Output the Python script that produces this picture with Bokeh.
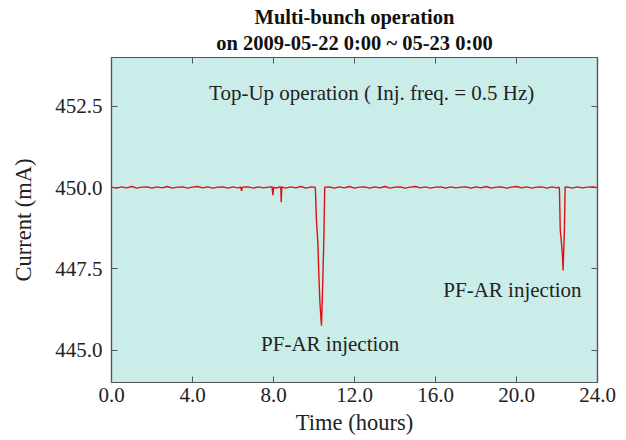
from bokeh.plotting import figure
from bokeh.models import Range1d, FixedTicker, NumeralTickFormatter, LinearAxis, Title, Label, ColumnDataSource
from bokeh.embed import file_html
from bokeh.resources import INLINE

# ---- data ----
time_h = [
    0.00, 0.25, 0.50, 0.75, 1.00, 1.25, 1.50, 1.75, 2.00, 2.25, 2.50, 2.75, 3.00, 3.25,
    3.50, 3.75, 4.00, 4.25, 4.50, 4.75, 5.00, 5.25, 5.50, 5.75, 6.00, 6.25, 6.38, 6.42,
    6.46, 6.75, 7.00, 7.25, 7.50, 7.75, 7.93, 7.97, 8.01, 8.15, 8.30, 8.36, 8.38, 8.41,
    8.60, 8.85, 9.10, 9.35, 9.60, 9.85, 10.05,
    10.07, 10.12, 10.19, 10.24, 10.29, 10.34, 10.37, 10.42, 10.49, 10.53,
    10.75, 11.00, 11.25, 11.50, 11.75, 12.00, 12.25, 12.50, 12.75, 13.00, 13.25, 13.50,
    13.75, 14.00, 14.25, 14.50, 14.75, 15.00, 15.25, 15.50, 15.75, 16.00, 16.25, 16.50,
    16.75, 17.00, 17.25, 17.50, 17.75, 18.00, 18.25, 18.50, 18.75, 19.00, 19.25, 19.50,
    19.75, 20.00, 20.25, 20.50, 20.75, 21.00, 21.25, 21.50, 21.75, 22.00, 22.10,
    22.12, 22.16, 22.22, 22.27, 22.30, 22.34, 22.37, 22.40,
    22.50, 22.75, 23.00, 23.25, 23.50, 23.75, 24.00,
]
current_ma = [
    450.01, 449.98, 450.02, 449.99, 450.03, 449.98, 450.01, 450.02, 449.98, 450.02, 449.99, 450.03, 449.98, 450.01,
    450.02, 449.98, 450.01, 450.03, 449.99, 450.02, 449.98, 450.01, 450.02, 449.98, 450.02, 449.99, 450.01, 449.90,
    450.01, 450.02, 449.98, 450.02, 449.99, 450.01, 450.02, 449.76, 450.01, 449.98, 450.02, 450.01, 449.55, 450.02,
    449.98, 450.02, 449.99, 450.03, 449.98, 450.02, 450.01,
    449.95, 449.00, 448.30, 447.30, 446.50, 446.00, 445.75, 446.80, 448.50, 450.01,
    450.02, 449.98, 450.02, 449.99, 450.03, 449.98, 450.01, 450.02, 449.98, 450.02, 449.99, 450.03,
    449.98, 450.01, 450.02, 449.98, 450.01, 450.03, 449.99, 450.02, 449.98, 450.01, 450.02, 449.98,
    450.02, 449.99, 450.01, 450.02, 449.98, 450.02, 449.99, 450.03, 449.98, 450.01, 450.02, 449.98,
    450.01, 450.03, 449.99, 450.02, 449.98, 450.01, 450.02, 449.98, 450.02, 449.99, 450.01,
    449.95, 448.70, 448.30, 447.90, 447.45, 448.20, 448.80, 450.01,
    450.02, 449.98, 450.02, 449.99, 450.01, 450.02, 450.00,
]
x_ticks = [0, 4, 8, 12, 16, 20, 24]
y_ticks = [445.0, 447.5, 450.0, 452.5]
title_line1 = "Multi-bunch operation"
title_line2 = "on 2009-05-22 0:00 ~ 05-23 0:00"
note_text = "Top-Up operation ( Inj. freq. = 0.5 Hz)"
inj_text = "PF-AR injection"
inj_pos = [(10.8, 445.2), (19.8, 446.85)]
note_pos = (12.85, 452.9)

FONT = "Liberation Serif"
TXT = "#222222"

p = figure(width=626, height=440, output_backend="svg", toolbar_location=None,
           x_range=Range1d(0, 24), y_range=Range1d(444, 454),
           min_border_left=111, min_border_right=29, min_border_top=57, min_border_bottom=58)
p.background_fill_color = "#cbedea"
p.border_fill_color = "white"
p.outline_line_color = "#555555"
p.outline_line_width = 1.2
p.xgrid.visible = False
p.ygrid.visible = False

src = ColumnDataSource(dict(t=time_h, i=current_ma))
p.line("t", "i", source=src, line_color="#dd1111", line_width=1.4)

def style_axis(ax, ticks, show_labels=True):
    ax.ticker = FixedTicker(ticks=ticks)
    ax.minor_tick_line_color = None
    ax.major_tick_in = 6
    ax.major_tick_out = 0
    ax.major_tick_line_color = "#555555"
    ax.axis_line_color = "#555555"
    ax.axis_line_width = 1.2
    ax.formatter = NumeralTickFormatter(format="0.0")
    ax.major_label_text_font = FONT
    ax.major_label_text_font_size = "21px"
    ax.major_label_text_color = TXT
    ax.axis_label_text_font = FONT
    ax.axis_label_text_font_size = "22.5px"
    ax.axis_label_text_font_style = "normal"
    ax.axis_label_text_color = TXT
    if not show_labels:
        ax.major_label_text_font_size = "1px"
        ax.major_label_text_color = None
        ax.major_label_standoff = 0

style_axis(p.xaxis[0], x_ticks)
style_axis(p.yaxis[0], y_ticks)
p.xaxis[0].axis_label = "Time (hours)"
p.yaxis[0].axis_label = "Current (mA)"
p.xaxis[0].major_label_standoff = 5
p.yaxis[0].major_label_standoff = 9
p.xaxis[0].axis_label_standoff = 5
p.yaxis[0].axis_label_standoff = 16

rax = LinearAxis()
style_axis(rax, y_ticks, show_labels=False)
p.add_layout(rax, "right")
tax = LinearAxis()
style_axis(tax, x_ticks, show_labels=False)
p.add_layout(tax, "above")

p.add_layout(Title(text=title_line2, align="center", text_font=FONT, text_font_size="20.5px",
                   text_font_style="bold", text_color="#111111", standoff=7), "above")
p.add_layout(Title(text=title_line1, align="center", text_font=FONT, text_font_size="20.5px",
                   text_font_style="bold", text_color="#111111", standoff=-3), "above")

p.add_layout(Label(x=note_pos[0], y=note_pos[1], text=note_text, text_align="center",
                   text_baseline="middle", text_font=FONT, text_font_size="21px", text_color=TXT))
for (lx, ly) in inj_pos:
    p.add_layout(Label(x=lx, y=ly, text=inj_text, text_align="center", text_baseline="middle",
                       text_font=FONT, text_font_size="21px", text_color=TXT))

open("out.html", "w").write(file_html(p, INLINE))
